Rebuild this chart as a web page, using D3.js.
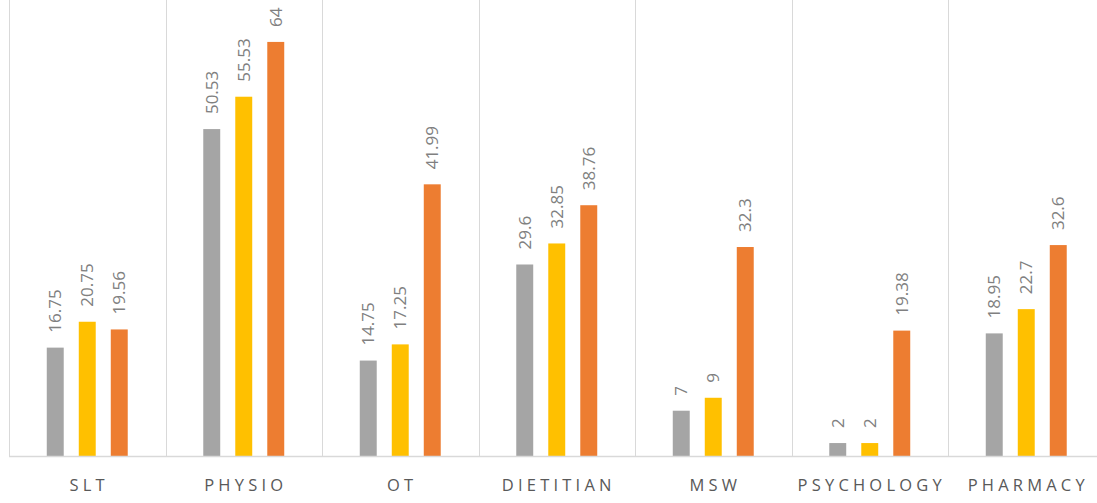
<!DOCTYPE html>
<html>
<head>
<meta charset="utf-8">
<script src="https://cdn.jsdelivr.net/npm/d3@7"></script>
<style>
  body { margin: 0; background: #fff; }
  #chart { width: 1097px; height: 503px; overflow: hidden; }
</style>
</head>
<body>
<div id="chart"></div>
<script>
// Categories and the three series
const categories = ["SLT", "PHYSIO", "OT", "DIETITIAN", "MSW", "PSYCHOLOGY", "PHARMACY"];
const seriesA = [16.75, 50.53, 14.75, 29.6, 7, 2, 18.95];   // gray
const seriesB = [20.75, 55.53, 17.25, 32.85, 9, 2, 22.7];   // gold
const seriesC = [19.56, 64, 41.99, 38.76, 32.3, 19.38, 32.6]; // orange
const seriesColors = ["#A5A5A5", "#FFC000", "#ED7D31"];

const width = 1097, height = 503;
const baseY = 456;

const rows = categories.map((c, i) => ({
    cat: c,
    vals: [seriesA[i], seriesB[i], seriesC[i]]
}));

const svg = d3.select("#chart").append("svg")
    .attr("width", width)
    .attr("height", height);

// band scale for categories (plot runs a bit past the right edge)
const x = d3.scaleBand()
    .domain(categories)
    .range([9, 1104.5])
    .padding(0);

// bars 17px wide, 32px apart
const inner = d3.scaleBand()
    .domain([0, 1, 2])
    .range([0, x.bandwidth()])
    .paddingInner(0.47)
    .paddingOuter(1.18);

const y = d3.scaleLinear()
    .domain([0, 70])
    .range([baseY, baseY - 70 * 6.47]);

// vertical separators
svg.append("g")
    .selectAll("line")
    .data(categories.concat(["_end"]))
    .join("line")
    .attr("x1", (d, i) => Math.round(9 + i * x.bandwidth()) + 0.5)
    .attr("x2", (d, i) => Math.round(9 + i * x.bandwidth()) + 0.5)
    .attr("y1", 0)
    .attr("y2", baseY)
    .attr("stroke", "#d9d9d9")
    .attr("stroke-width", 1);

// bars
const groups = svg.append("g")
    .selectAll("g")
    .data(rows)
    .join("g")
    .attr("transform", d => `translate(${x(d.cat)},0)`);

groups.selectAll("rect")
    .data(d => d.vals.map((v, k) => ({ v, k })))
    .join("rect")
    .attr("x", d => inner(d.k))
    .attr("width", inner.bandwidth())
    .attr("y", d => y(d.v))
    .attr("height", d => baseY - y(d.v))
    .attr("fill", d => seriesColors[d.k]);

// value labels, rotated
groups.selectAll("text")
    .data(d => d.vals.map((v, k) => ({ v, k })))
    .join("text")
    .attr("transform", d => `translate(${inner(d.k) + inner.bandwidth() / 2 + 6},${y(d.v) - 15}) rotate(-90)`)
    .attr("text-anchor", "start")
    .style("font", "17px 'Open Sans', sans-serif")
    .style("fill", "#808080")
    .text(d => d.v);

// baseline
svg.append("line")
    .attr("x1", 9).attr("x2", width)
    .attr("y1", baseY + 0.5).attr("y2", baseY + 0.5)
    .attr("stroke", "#d9d9d9")
    .attr("stroke-width", 1.5);

// category labels
svg.append("g")
    .selectAll("text")
    .data(categories)
    .join("text")
    .attr("x", d => x(d) + x.bandwidth() / 2 + 2)
    .attr("y", 491)
    .attr("text-anchor", "middle")
    .style("font", "16.5px 'Open Sans', sans-serif")
    .style("letter-spacing", "4.2px")
    .style("fill", "#595959")
    .text(d => d);
</script>
</body>
</html>
